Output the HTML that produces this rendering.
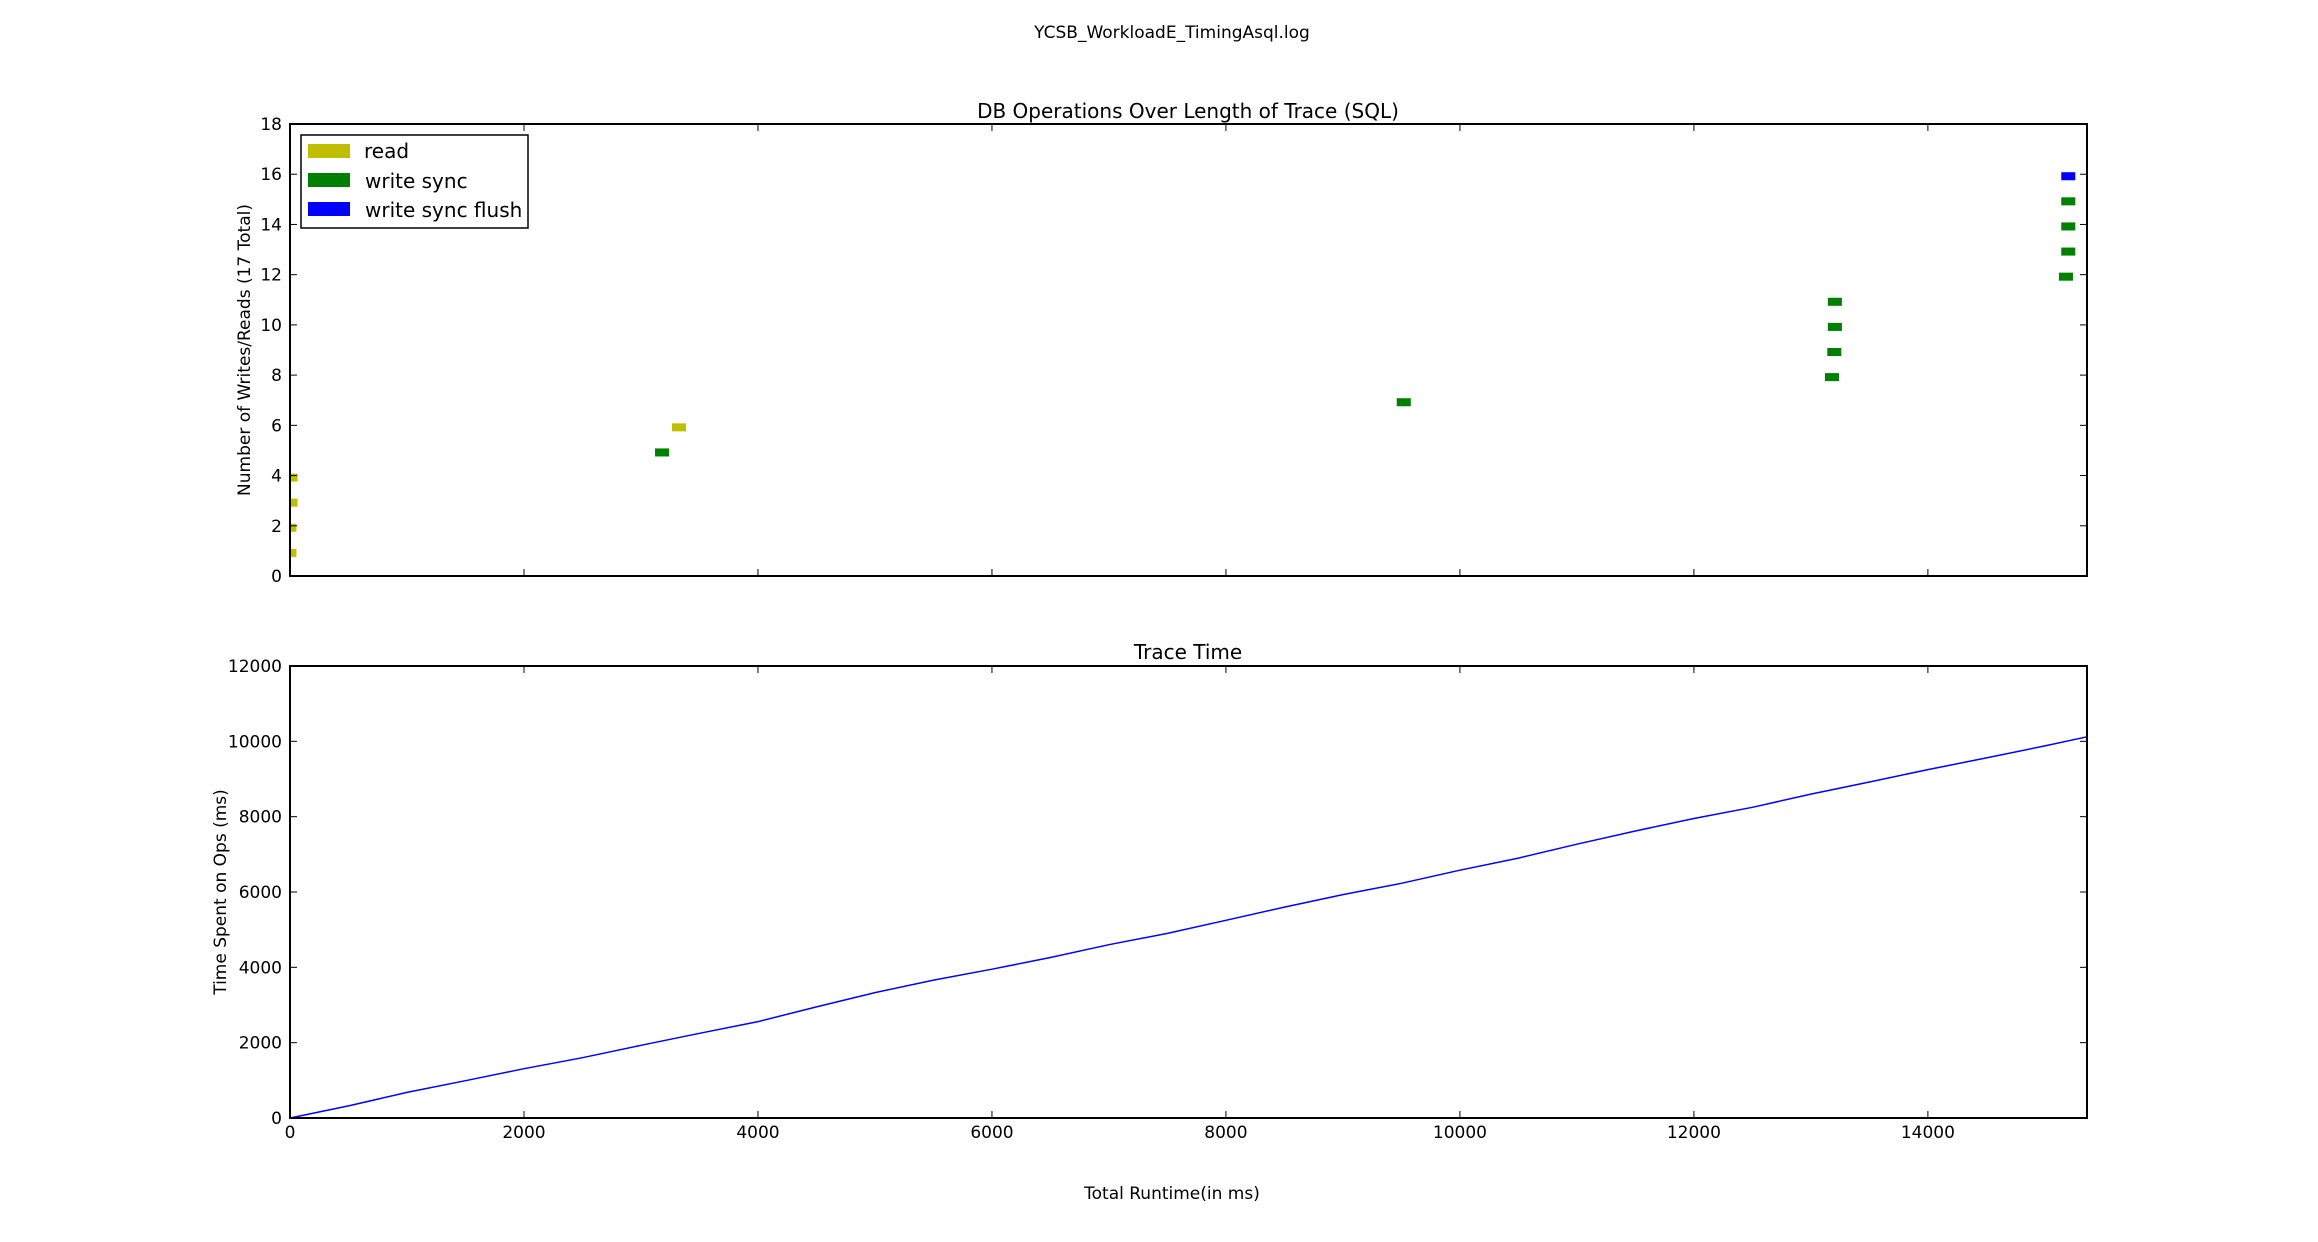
<!DOCTYPE html>
<html><head><meta charset="utf-8"><style>
html,body{margin:0;padding:0;background:#fff;}
svg{display:block;font-family:"DejaVu Sans","Liberation Sans",sans-serif;}
</style></head><body>
<svg id="c" width="2318" height="1242" viewBox="0 0 2318 1242" xmlns="http://www.w3.org/2000/svg">
<text x="1172" y="38" font-size="17" text-anchor="middle">YCSB_WorkloadE_TimingAsql.log</text>
<text x="1188" y="118" font-size="20" text-anchor="middle">DB Operations Over Length of Trace (SQL)</text>
<text x="1188" y="666" font-size="20" text-anchor="middle" id="bt">Trace Time</text>
<text x="1172" y="1199" font-size="17" text-anchor="middle">Total Runtime(in ms)</text>
<text transform="translate(250,350) rotate(-90)" font-size="17" text-anchor="middle">Number of Writes/Reads (17 Total)</text>
<text transform="translate(226,892) rotate(-90)" font-size="17" text-anchor="middle">Time Spent on Ops (ms)</text>
<g id="topg"></g>
<g id="botg"></g>
<g>
<rect x="301" y="135" width="227" height="93" fill="#fff" stroke="#000" stroke-width="1.5"/>
<rect x="308" y="144" width="42" height="14" fill="#bfbf00"/>
<text x="364" y="158" font-size="20">read</text>
<rect x="308" y="173" width="42" height="14" fill="#008000"/>
<text x="365" y="188" font-size="20">write sync</text>
<rect x="308" y="202" width="42" height="14" fill="#0000ff"/>
<text x="365" y="217" font-size="20">write sync flush</text>
</g>
</svg>
<script>
// Top chart data
const opStart = [0, 0, 0, 0, 3120, 3265, 9460, 13120, 13140, 13145, 13145, 15120, 15140, 15140, 15140, 15140];
const opDur   = [55, 55, 65, 65, 120, 120, 120, 120, 120, 120, 120, 120, 120, 120, 120, 120];
const opIndex = [1, 2, 3, 4, 5, 6, 7, 8, 9, 10, 11, 12, 13, 14, 15, 16];
const opType  = ["read","read","read","read","write sync","read","write sync","write sync","write sync","write sync","write sync","write sync","write sync","write sync","write sync","write sync flush"];
const topYTicks = [0, 2, 4, 6, 8, 10, 12, 14, 16, 18];
// Bottom chart data
const runtimeX = [0, 500, 1000, 1500, 2000, 2500, 3000, 3500, 4000, 4500, 5000, 5500, 6000, 6500, 7000, 7500, 8000, 8500, 9000, 9500, 10000, 10500, 11000, 11500, 12000, 12500, 13000, 13500, 14000, 14500, 15000, 15360];
const opsTimeY = [0, 320, 680, 990, 1310, 1600, 1930, 2250, 2560, 2950, 3330, 3660, 3950, 4260, 4600, 4900, 5250, 5600, 5930, 6230, 6580, 6900, 7270, 7620, 7950, 8250, 8600, 8920, 9250, 9560, 9880, 10120];
const botYTicks = [0, 2000, 4000, 6000, 8000, 10000, 12000];
const xTicks = [0, 2000, 4000, 6000, 8000, 10000, 12000, 14000];

const NS = "http://www.w3.org/2000/svg";
const L = 290, R = 2087, XMAX = 15360;
const T1 = 124, B1 = 576, YMAX1 = 18;
const T2 = 666, B2 = 1118, YMAX2 = 12000;
document.getElementById('bt').setAttribute('y', T2 - 7);
const xs = v => L + (v / XMAX) * (R - L);
const y1 = v => B1 - (v / YMAX1) * (B1 - T1);
const y2 = v => B2 - (v / YMAX2) * (B2 - T2);
const colors = {"read":"#bfbf00","write sync":"#008000","write sync flush":"#0000ff"};
function mk(tag, attrs, parent){ const e = document.createElementNS(NS, tag); for (const k in attrs) e.setAttribute(k, attrs[k]); parent.appendChild(e); return e; }

const gTop = document.getElementById('topg');
const gBot = document.getElementById('botg');

for (let i = 0; i < opIndex.length; i++) {
  const r = mk('rect', {x: xs(opStart[i]), y: y1(opIndex[i] + 0.08), width: Math.max(6, xs(opStart[i] + opDur[i]) - xs(opStart[i])), height: y1(opIndex[i] - 0.24) - y1(opIndex[i] + 0.08), fill: colors[opType[i]]}, gTop);
  
  
}
let d = '';
for (let i = 0; i < runtimeX.length; i++) d += (i ? 'L' : 'M') + xs(runtimeX[i]).toFixed(1) + ',' + y2(opsTimeY[i]).toFixed(1);
const line = mk('path', {d: d, fill: 'none', stroke: '#0000ff', 'stroke-width': 1.5}, gBot);



function frame(g, T, B, yt, yf, showX, nm) {
  const f = mk('rect', {x: L, y: T, width: R - L, height: B - T, fill: 'none', stroke: '#000', 'stroke-width': 2}, g);
  
  
  yt.forEach(v => {
    const y = yf(v);
    mk('line', {x1: L, x2: L + 7, y1: y, y2: y, stroke: '#000', 'stroke-width': 1}, g);
    mk('line', {x1: R, x2: R - 7, y1: y, y2: y, stroke: '#000', 'stroke-width': 1}, g);
    const t = mk('text', {x: L - 8, y: y + 6, 'font-size': 17, 'text-anchor': 'end'}, g);
    t.textContent = v;
    
    
  });
  xTicks.forEach(v => {
    const x = xs(v);
    mk('line', {x1: x, x2: x, y1: B, y2: B - 7, stroke: '#000', 'stroke-width': 1}, g);
    mk('line', {x1: x, x2: x, y1: T, y2: T + 7, stroke: '#000', 'stroke-width': 1}, g);
    if (showX) {
      const t = mk('text', {x: x, y: B + 20, 'font-size': 17, 'text-anchor': 'middle'}, g);
      t.textContent = v;
      
      
    }
  });
}
frame(gTop, T1, B1, topYTicks, y1, false, 'top');
frame(gBot, T2, B2, botYTicks, y2, true, 'bottom');
</script>
</body></html>
